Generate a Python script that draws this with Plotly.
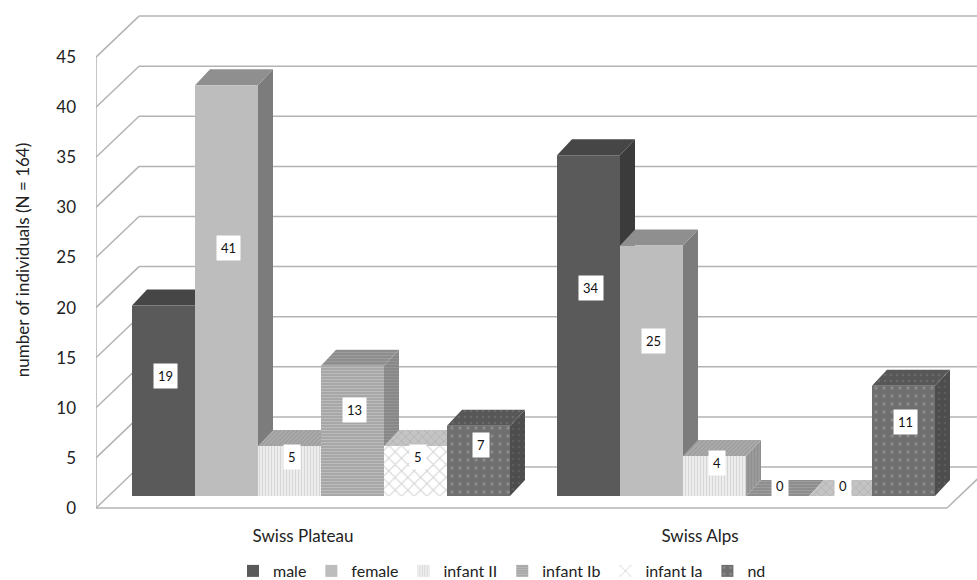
import plotly.graph_objects as go

# ---------------- data ----------------
regions = ["Swiss Plateau", "Swiss Alps"]
series_names = ["male", "female", "infant II", "infant Ib", "infant Ia", "nd"]
male = [19, 34]
female = [41, 25]
infant_ii = [5, 4]
infant_ib = [13, 0]
infant_ia = [5, 0]
nd = [7, 11]
y_tick_values = [0, 5, 10, 15, 20, 25, 30, 35, 40, 45]
y_title = "number of individuals (N = 164)"

series_values = [male, female, infant_ii, infant_ib, infant_ia, nd]

# ---------------- looks ----------------
FONT = "Lato, 'Open Sans', Arial, sans-serif"
GRID = "#b3b3b3"
TEXT = "#222222"


def fill(bg, fg=None, shape="", size=6, solidity=0.3):
    return dict(bg=bg, fg=fg, shape=shape, size=size, solidity=solidity)


# front / top / right-side faces for each series
looks = [
    dict(front=fill("#5a5a5a"), top=fill("#464646"), side=fill("#3b3b3b")),
    dict(front=fill("#bdbdbd"), top=fill("#8f8f8f"), side=fill("#7c7c7c")),
    dict(front=fill("#f1f1f1", "#bcbcbc", "|", 3, 0.45),
         top=fill("#ababab", "#8a8a8a", "/", 3, 0.4),
         side=fill("#9c9c9c", "#808080", "|", 3, 0.4)),
    dict(front=fill("#a7a7a7", "#d2d2d2", "-", 3, 0.35),
         top=fill("#8e8e8e", "#ababab", "-", 3, 0.35),
         side=fill("#888888", "#a2a2a2", "-", 3, 0.35)),
    dict(front=fill("#ffffff", "#a9a9a9", "x", 9, 0.22),
         top=fill("#c4c4c4", "#9c9c9c", "x", 6, 0.25),
         side=fill("#ababab", "#8a8a8a", "x", 6, 0.25)),
    dict(front=fill("#6f6f6f", "#a6a6a6", ".", 8, 0.14),
         top=fill("#575757", "#7c7c7c", ".", 6, 0.15),
         side=fill("#4d4d4d", "#6c6c6c", ".", 6, 0.15)),
]


def pattern_of(f):
    if not f["shape"]:
        return None
    return dict(shape=f["shape"], bgcolor=f["bg"], fgcolor=f["fg"],
                size=f["size"], solidity=f["solidity"])


# ---------------- geometry (page pixels) ----------------
W, H = 977, 580
PLOT_L, PLOT_R, PLOT_T, PLOT_B = 96, 977, 0, 520
GROUP0_PX, GROUP_PITCH_PX = 321, 425      # bar-group centres
BASE_PX, UNIT_PX = 496, 10.02             # bar base line, pixels per unit
BAR_PX = 63                               # bar width
BAR_DEPTH_PX = (15, -16)                  # oblique depth of each bar
FRONT_ZERO_PX = 508                       # floor front edge (value axis zero)
FRONT_RIGHT_PX = 947
WALL_DEPTH_PX = (43, -41)                 # oblique depth of the walls
CATEGORY_LABEL_PX = [303, 700]            # category label centres on the front edge
LEGEND_CENTRE_PX = (502, 571)


def cx(px):
    return (px - GROUP0_PX) / GROUP_PITCH_PX


def vy(py):
    # value on the front (axis) plane
    return (FRONT_ZERO_PX - py) / UNIT_PX


def dcx(dpx):
    return dpx / GROUP_PITCH_PX


def dvy(dpy):
    return -dpy / UNIT_PX


x_range = [cx(PLOT_L), cx(PLOT_R)]
y_range = [vy(PLOT_B), vy(PLOT_T)]                    # front-plane units
bar_lift = vy(BASE_PX)                                # bar base above front zero
bar_range = [y_range[0] - bar_lift, y_range[1] - bar_lift]

n = len(series_names)
bar_w = BAR_PX / GROUP_PITCH_PX
bargap = 1 - n * bar_w
bdx, bdy = dcx(BAR_DEPTH_PX[0]), dvy(BAR_DEPTH_PX[1])
wdx, wdy = dcx(WALL_DEPTH_PX[0]), dvy(WALL_DEPTH_PX[1])

fig = go.Figure()

# ---------------- walls and floor ----------------
line_style = dict(color=GRID, width=1.5)
shapes = []
x_front_l, x_front_r = cx(PLOT_L), cx(FRONT_RIGHT_PX)
for t in y_tick_values:
    # left wall diagonal, then the back wall line
    shapes.append(dict(type="line", xref="x", yref="y", layer="below",
                       x0=x_front_l, y0=t, x1=x_front_l + wdx, y1=t + wdy,
                       line=line_style))
    shapes.append(dict(type="line", xref="x", yref="y", layer="below",
                       x0=x_front_l + wdx, y0=t + wdy, x1=x_range[1] + 1, y1=t + wdy,
                       line=line_style))
# left wall front edge
shapes.append(dict(type="line", xref="x", yref="y", layer="below",
                   x0=x_front_l, y0=0, x1=x_front_l, y1=y_tick_values[-1],
                   line=line_style))
# floor front edge and right edge
shapes.append(dict(type="line", xref="x", yref="y", layer="below",
                   x0=x_front_l, y0=0, x1=x_front_r, y1=0, line=line_style))
shapes.append(dict(type="line", xref="x", yref="y", layer="below",
                   x0=x_front_r, y0=0, x1=x_front_r + wdx, y1=wdy, line=line_style))

# ---------------- bar tops and right sides (drawn left to right) ----------------
for g in range(len(regions)):
    for i, vals in enumerate(series_values):
        v = vals[g]
        centre = g + (i - (n - 1) / 2) * bar_w
        xl, xr = centre - bar_w / 2, centre + bar_w / 2
        y0, y1 = bar_lift, bar_lift + v
        faces = [
            ("side", [xr, xr, xr + bdx, xr + bdx, xr], [y0, y1, y1 + bdy, y0 + bdy, y0]),
            ("top", [xl, xr, xr + bdx, xl + bdx, xl], [y1, y1, y1 + bdy, y1 + bdy, y1]),
        ]
        for key, fx, fyy in faces:
            f = looks[i][key]
            tr = go.Scatter(x=fx, y=fyy, mode="lines", fill="toself",
                            fillcolor=f["bg"], line=dict(width=0),
                            hoverinfo="skip", showlegend=False,
                            xaxis="x", yaxis="y")
            pat = pattern_of(f)
            if pat:
                tr.fillpattern = pat
            fig.add_trace(tr)

# ---------------- bar fronts ----------------
for i, (name, vals) in enumerate(zip(series_names, series_values)):
    f = looks[i]["front"]
    marker = dict(color=f["bg"], line=dict(width=0))
    pat = pattern_of(f)
    if pat:
        marker["pattern"] = pat
    fig.add_trace(go.Bar(name=name, x=list(range(len(regions))), y=vals,
                         marker=marker, xaxis="x2", yaxis="y2",
                         hovertemplate=name + ": %{y}<extra></extra>"))

# ---------------- value labels ----------------
LABEL_FRAC, LABEL_LIFT = 0.58, 1.0
annotations = []
for g in range(len(regions)):
    for i, vals in enumerate(series_values):
        v = vals[g]
        centre = g + (i - (n - 1) / 2) * bar_w
        annotations.append(dict(x=centre + dcx(2),
                                y=bar_lift + v * LABEL_FRAC + LABEL_LIFT,
                                xref="x", yref="y", text=str(v), showarrow=False,
                                bgcolor="white", borderpad=4,
                                font=dict(size=13, color="#111", family=FONT)))

fig.update_layout(
    width=W, height=H,
    margin=dict(l=PLOT_L, r=W - PLOT_R, t=PLOT_T, b=H - PLOT_B, autoexpand=False),
    paper_bgcolor="white", plot_bgcolor="white",
    font=dict(family=FONT, color=TEXT, size=16),
    barmode="group", bargap=bargap, bargroupgap=0,
    shapes=shapes, annotations=annotations,
    xaxis=dict(range=x_range, showgrid=False, zeroline=False, showline=False,
               ticks="", tickvals=[cx(p) for p in CATEGORY_LABEL_PX],
               ticktext=regions, ticklabelstandoff=4,
               tickfont=dict(size=17, color=TEXT)),
    yaxis=dict(range=y_range, showgrid=False, zeroline=False, showline=False,
               ticks="", tickvals=y_tick_values, ticklabelstandoff=19,
               tickfont=dict(size=17, color=TEXT),
               title=dict(text=y_title, standoff=22,
                          font=dict(size=17, color=TEXT))),
    xaxis2=dict(range=x_range, visible=False, overlaying="x"),
    yaxis2=dict(range=bar_range, visible=False, overlaying="y"),
    legend=dict(orientation="h",
                x=(LEGEND_CENTRE_PX[0] - PLOT_L) / (PLOT_R - PLOT_L),
                xanchor="center",
                y=(PLOT_B - LEGEND_CENTRE_PX[1]) / (PLOT_B - PLOT_T),
                yanchor="middle", itemwidth=30, traceorder="normal",
                font=dict(size=16, color=TEXT), bgcolor="rgba(0,0,0,0)"),
)

fig.write_html("out.html")
